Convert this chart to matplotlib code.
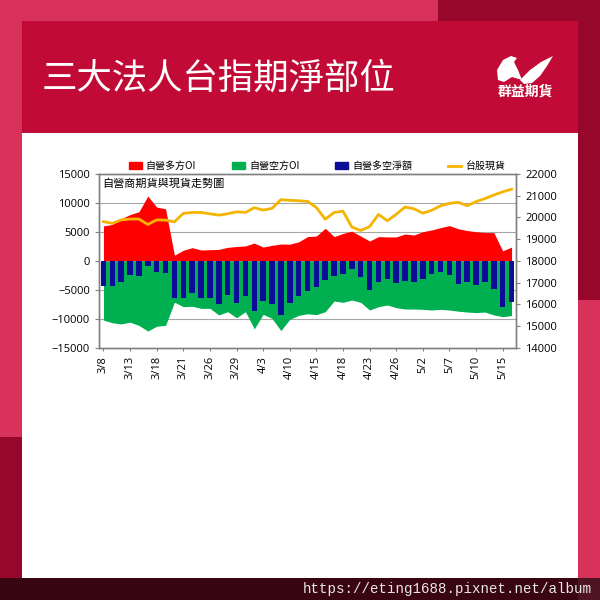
import numpy as np
import matplotlib
matplotlib.use("Agg")
import matplotlib.pyplot as plt
from matplotlib.patches import Rectangle, Polygon, Patch
from matplotlib.lines import Line2D

# trading days 3/8 .. 5/16, labels every 3rd day
dates = ["3/8", "3/11", "3/12", "3/13", "3/14", "3/15", "3/18", "3/19", "3/20", "3/21",
         "3/22", "3/25", "3/26", "3/27", "3/28", "3/29", "4/1", "4/2", "4/3", "4/8",
         "4/9", "4/10", "4/11", "4/12", "4/15", "4/16", "4/17", "4/18", "4/19", "4/22",
         "4/23", "4/24", "4/25", "4/26", "4/29", "4/30", "5/2", "5/3", "5/6", "5/7",
         "5/8", "5/9", "5/10", "5/13", "5/14", "5/15", "5/16"]

long_oi = [6040, 6300, 7300, 8000, 8500, 11200, 9300, 9000, 1000, 1850,
           2300, 1900, 1950, 2000, 2350, 2500, 2600, 3100, 2400, 2700,
           2930, 2900, 3300, 4200, 4300, 5650, 4200, 4750, 5150, 4300,
           3450, 4200, 4150, 4150, 4650, 4480, 5050, 5350, 5750, 6100,
           5550, 5250, 5050, 4900, 4900, 1750, 2400]

short_oi = [-10180, -10650, -10850, -10550, -11100, -12075, -11250, -11100, -7100, -7880,
            -7800, -8165, -8165, -9300, -8740, -9775, -8740, -11700, -9200, -9890,
            -12000, -10060, -9370, -9100, -9250, -8740, -6900, -7130, -6730, -7130,
            -8450, -7880, -7590, -8050, -8280, -8280, -8340, -8450, -8340, -8450,
            -8650, -8800, -8900, -8800, -9300, -9600, -9400]

net_oi = [-4250, -4250, -3600, -2450, -2500, -850, -1950, -2050, -6300, -6300,
          -5550, -6300, -6300, -7400, -5900, -7200, -6000, -8650, -6850, -7400,
          -9350, -7200, -6050, -5100, -4450, -3280, -2590, -2250, -1450, -2820,
          -5060, -3570, -3160, -3740, -3390, -3680, -3160, -2240, -1840, -2420,
          -3970, -3570, -4140, -3570, -4830, -7880, -7020]

taiex = [19810, 19730, 19890, 19930, 19930, 19680, 19890, 19880, 19800, 20190,
         20230, 20230, 20170, 20110, 20170, 20260, 20230, 20450, 20340, 20420,
         20820, 20790, 20770, 20740, 20460, 19920, 20230, 20290, 19560, 19400,
         19580, 20140, 19850, 20150, 20480, 20400, 20200, 20330, 20540, 20650,
         20700, 20540, 20730, 20870, 21030, 21180, 21300]

series_names = ["自營多方OI", "自營空方OI", "自營多空淨額", "台股現貨"]
title = "三大法人台指期淨部位"
chart_title = "自營商期貨與現貨走勢圖"
url = "https://eting1688.pixnet.net/album"

CJK = ["Noto Sans CJK TC", "DejaVu Sans"]
NUM = ["Open Sans", "DejaVu Sans"]

fig = plt.figure(figsize=(6, 6), dpi=100)

# background frame drawn in pixel coords
bg = fig.add_axes([0, 0, 1, 1])
bg.set_xlim(0, 600)
bg.set_ylim(600, 0)
bg.axis("off")
for (x0, y0, w, h, c) in [(0, 0, 600, 600, "#d8325a"),
                          (438, 0, 162, 21, "#97062b"),
                          (578, 0, 22, 300, "#97062b"),
                          (0, 437, 22, 141, "#97062b"),
                          (22, 21, 556, 112, "#c10b36"),
                          (22, 133, 556, 445, "#ffffff"),
                          (0, 578, 600, 22, "#3a0512"),
                          (578, 578, 22, 22, "#4e1424")]:
    bg.add_patch(Rectangle((x0, y0), w, h, color=c, lw=0))

bg.text(42, 79, title, color="white", fontsize=25.5, family=CJK,
        weight="medium", va="center", ha="left")

# rough logo
bg.add_patch(Polygon([(497, 70), (503, 60), (511, 56), (517, 58), (514, 62),
                      (518, 70), (522, 80), (512, 77), (504, 82), (498, 80)],
                     closed=True, color="white", lw=0))
bg.add_patch(Polygon([(520, 80), (530, 70), (541, 62), (553, 56), (547, 66),
                      (540, 76), (532, 83), (524, 84)],
                     closed=True, color="white", lw=0))
bg.text(525, 92, "群益期貨", color="white", fontsize=10, family=CJK,
        weight="bold", va="center", ha="center")

bg.text(592, 589, url, color="#e8e8e8", fontsize=10.2, family="Liberation Mono",
        va="center", ha="right")

# main chart
ax = fig.add_axes([99 / 600, 1 - 348 / 600, (516 - 99) / 600, (348 - 174) / 600])
x = np.arange(len(dates))
ax.fill_between(x, 0, long_oi, color="#ff0000", lw=0, zorder=2)
ax.fill_between(x, 0, short_oi, color="#00b050", lw=0, zorder=2)
ax.bar(x, net_oi, width=0.62, color="#0c0c99", zorder=3)
ax.set_xlim(-0.5, len(dates) - 0.5)
ax.set_ylim(-15000, 15000)
ax.set_yticks(np.arange(-15000, 15001, 5000))
ax.set_axisbelow(True)
for v in [-10000, -5000, 5000, 10000]:
    ax.axhline(v, color="#a6a6a6", lw=0.8, zorder=1)
ax.set_xticks(x[::3])
ax.set_xticklabels(dates[::3], rotation=90, fontsize=8, family=NUM)
ax.tick_params(axis="y", labelsize=8, length=3, color="#808080")
ax.tick_params(axis="x", length=2, color="#808080")
for t in ax.get_yticklabels():
    t.set_family(NUM)
for s in ax.spines.values():
    s.set_color("#808080")
    s.set_linewidth(1)

ax.text(0.008, 0.975, chart_title, transform=ax.transAxes, fontsize=8,
        family=CJK, va="top", ha="left", zorder=6)

ax2 = ax.twinx()
ax2.plot(x, taiex, color="#f5b400", lw=2, zorder=4)
ax2.set_ylim(14000, 22000)
ax2.set_yticks(np.arange(14000, 22001, 1000))
ax2.tick_params(axis="y", labelsize=8, length=3, color="#808080")
for t in ax2.get_yticklabels():
    t.set_family(NUM)
for s in ax2.spines.values():
    s.set_color("#808080")
    s.set_linewidth(1)

handles = [Patch(color="#ff0000"), Patch(color="#00b050"), Patch(color="#0c0c99"),
           Line2D([0], [0], color="#f5b400", lw=2)]
fig.legend(handles, series_names, ncol=4, loc="center",
           bbox_to_anchor=(317 / 600, 1 - 166 / 600), frameon=False,
           prop={"family": CJK, "size": 7.2}, handlelength=1.3, handleheight=0.6,
           handletextpad=0.4, columnspacing=3.6)

fig.savefig("out.png", dpi=100)
